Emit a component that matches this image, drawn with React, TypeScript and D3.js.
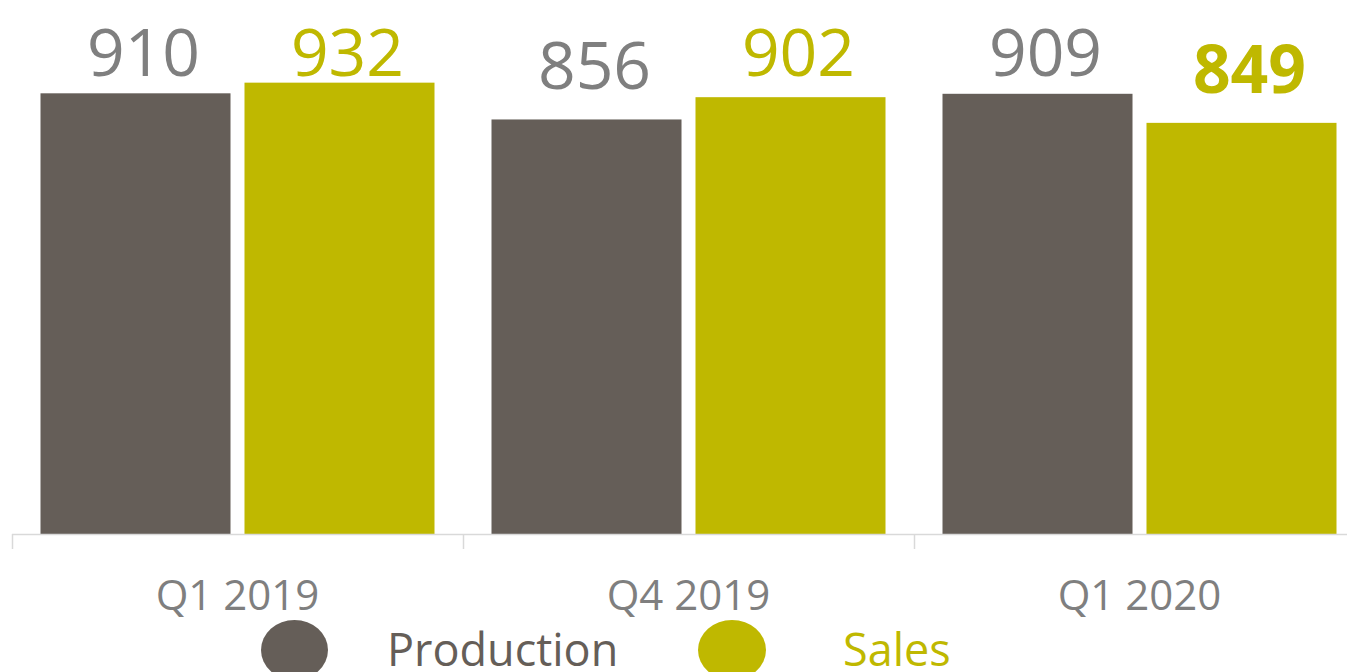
import React, { useEffect } from 'react';
import { scaleBand, scaleLinear } from 'd3';

const categories = ['Q1 2019', 'Q4 2019', 'Q1 2020'];
const seriesNames = ['Production', 'Sales'];
const production = [910, 856, 909];
const sales = [932, 902, 849];
const boldLabels = [[false, false, false], [false, false, true]];

const colors = { Production: '#655e58', Sales: '#bfb800' };
const labelColors = { Production: '#7f7f7f', Sales: '#bfb800' };

const W = 1347;
const H = 672;
const baseY = 534;
const font = '"Open Sans", sans-serif';

const App = () => {
  useEffect(() => {
    document.body.style.margin = '0';
  }, []);

  const x0 = scaleBand<string>().domain(categories).range([12, 1365]).padding(0);
  const x1 = scaleBand<string>()
    .domain(seriesNames)
    .range([0, x0.bandwidth()])
    .paddingInner(0.0686)
    .paddingOuter(0.1397);
  const y = scaleLinear().domain([0, 1100]).range([baseY, 1.3]);

  const values = [production, sales];
  // labels sit ~30px above the bar but never higher than the common top line
  const labelY = (v: number) => Math.max(76, y(v) - 30);

  return (
    <svg width={W} height={H} style={{ display: 'block' }}>
      <g>
        {categories.map((c, ci) =>
          seriesNames.map((s, si) => {
            const v = values[si][ci];
            const bx = (x0(c) as number) + (x1(s) as number);
            return (
              <g key={c + s}>
                <rect
                  x={bx}
                  y={y(v)}
                  width={x1.bandwidth()}
                  height={baseY - y(v)}
                  fill={colors[s]}
                />
                <text
                  x={bx + x1.bandwidth() / 2 + 8}
                  y={labelY(v)}
                  textAnchor="middle"
                  fontFamily={font}
                  fontSize={66}
                  fontWeight={boldLabels[si][ci] ? 700 : 400}
                  fill={labelColors[s]}
                >
                  {v}
                </text>
              </g>
            );
          })
        )}
      </g>
      <g>
        <line x1={12} x2={W} y1={baseY + 0.5} y2={baseY + 0.5} stroke="#d9d9d9" strokeWidth={1.5} />
        {categories.map((c) => (
          <line
            key={c}
            x1={(x0(c) as number) + 0.5}
            x2={(x0(c) as number) + 0.5}
            y1={baseY}
            y2={baseY + 15}
            stroke="#d9d9d9"
            strokeWidth={1.5}
          />
        ))}
        {categories.map((c) => (
          <text
            key={c}
            x={(x0(c) as number) + x0.bandwidth() / 2}
            y={610}
            textAnchor="middle"
            fontFamily={font}
            fontSize={42}
            fill="#7f7f7f"
          >
            {c}
          </text>
        ))}
      </g>
      <g>
        <ellipse cx={294.5} cy={650} rx={33.5} ry={30} fill={colors.Production} />
        <text x={387} y={666} fontFamily={font} fontSize={45} fill={colors.Production}>
          Production
        </text>
        <ellipse cx={732} cy={650} rx={34} ry={30} fill={colors.Sales} />
        <text x={843} y={666} fontFamily={font} fontSize={45} fill={colors.Sales}>
          Sales
        </text>
      </g>
    </svg>
  );
};

export default App;
